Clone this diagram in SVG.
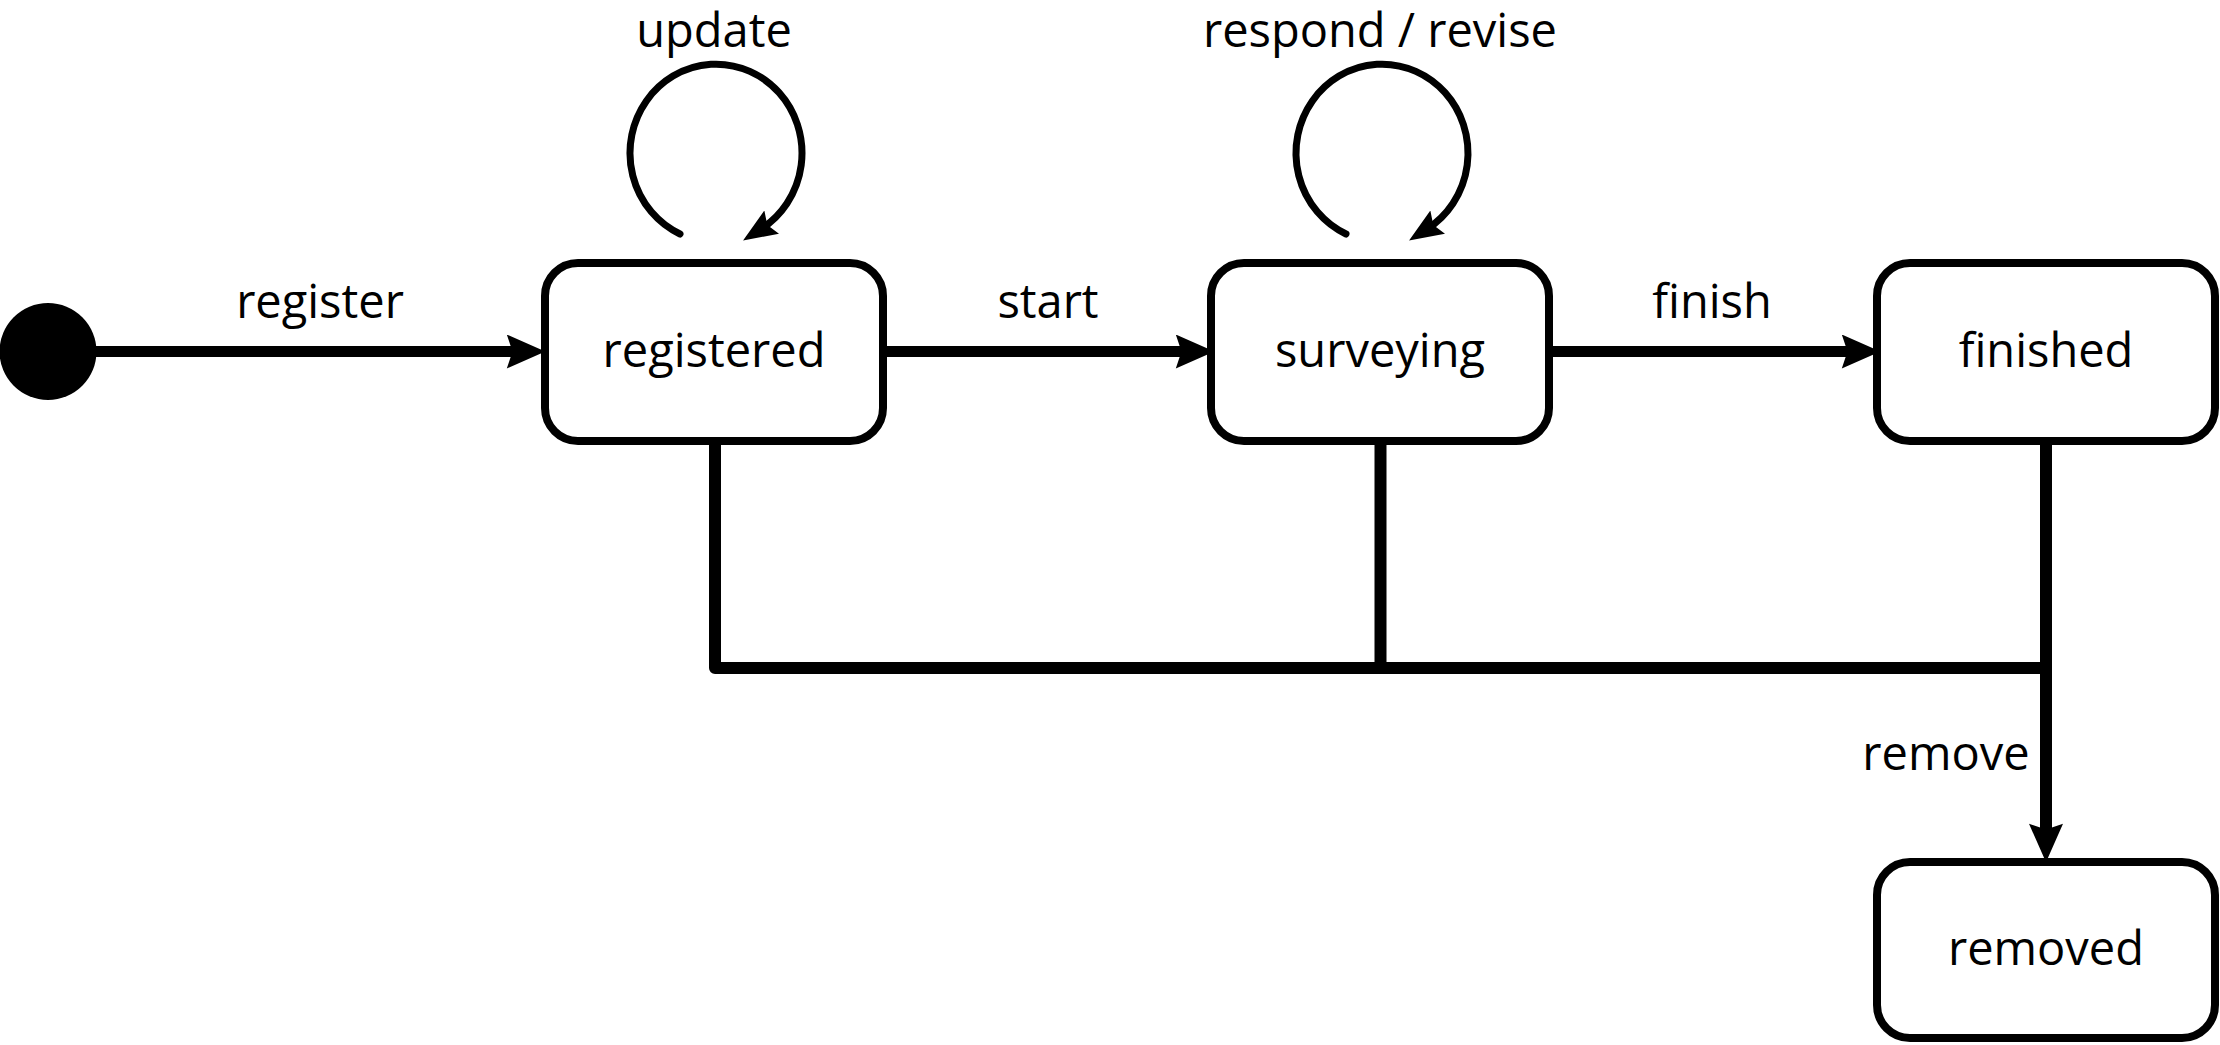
<svg xmlns="http://www.w3.org/2000/svg" width="2220" height="1045" viewBox="0 0 2220 1045">
  <defs>
    <style>
      .state rect { fill: #ffffff; stroke: #000000; stroke-width: 8; }
      .state text, .label { font-family: "Open Sans", "Noto Sans", sans-serif; font-size: 47px; fill: #000000; text-anchor: middle; }
      .edge { fill: none; stroke: #000000; stroke-width: 11; }
      .merge { fill: none; stroke: #000000; stroke-width: 12; stroke-linejoin: round; }
      .loop { fill: none; stroke: #000000; stroke-width: 7; stroke-linecap: round; }
    </style>
    <marker id="arrow" markerUnits="userSpaceOnUse" markerWidth="40" markerHeight="34" viewBox="0 0 34 30" refX="9" refY="15" orient="auto">
      <path d="M0,0 L34,15 L0,30 L5,15 Z" fill="#000000"/>
    </marker>
    <marker id="arrowSmall" markerUnits="userSpaceOnUse" markerWidth="34" markerHeight="28" viewBox="0 0 32 26" refX="12" refY="13" orient="auto">
      <path d="M0,0 L32,13 L0,26 L5,13 Z" fill="#000000"/>
    </marker>
  </defs>

  <g id="connectors">
    <path class="edge" d="M 90 351.5 H 517" marker-end="url(#arrow)"/>
    <path class="edge" d="M 883 351.5 H 1186" marker-end="url(#arrow)"/>
    <path class="edge" d="M 1549 351.5 H 1852" marker-end="url(#arrow)"/>
    <path class="loop" d="M 680 234 A 86 89 0 1 1 761 229" marker-end="url(#arrowSmall)"/>
    <path class="loop" d="M 1346 234 A 86 89 0 1 1 1427 229" marker-end="url(#arrowSmall)"/>
    <path class="merge" d="M 715 441 V 668 H 2046"/>
    <path class="merge" d="M 1380.5 441 V 668"/>
    <path class="merge" d="M 2046 441 V 834" marker-end="url(#arrow)"/>
    <text class="label" x="320" y="318">register</text>
    <text class="label" x="1048" y="318">start</text>
    <text class="label" x="1712" y="318">finish</text>
    <text class="label" x="714" y="47">update</text>
    <text class="label" x="1380" y="47">respond / revise</text>
    <text class="label" x="1946" y="770">remove</text>
  </g>

  <g id="initial">
    <circle cx="48" cy="351.5" r="48.5" fill="#000000"/>
  </g>

  <g id="registered" class="state">
    <rect x="545" y="263" width="338" height="178" rx="33" ry="33"/>
    <text x="714" y="367">registered</text>
  </g>

  <g id="surveying" class="state">
    <rect x="1211" y="263" width="338" height="178" rx="33" ry="33"/>
    <text x="1380" y="367">surveying</text>
  </g>

  <g id="finished" class="state">
    <rect x="1877" y="263" width="338" height="178" rx="33" ry="33"/>
    <text x="2046" y="367">finished</text>
  </g>

  <g id="removed" class="state">
    <rect x="1877" y="862" width="338" height="176" rx="33" ry="33"/>
    <text x="2046" y="965">removed</text>
  </g>
</svg>
